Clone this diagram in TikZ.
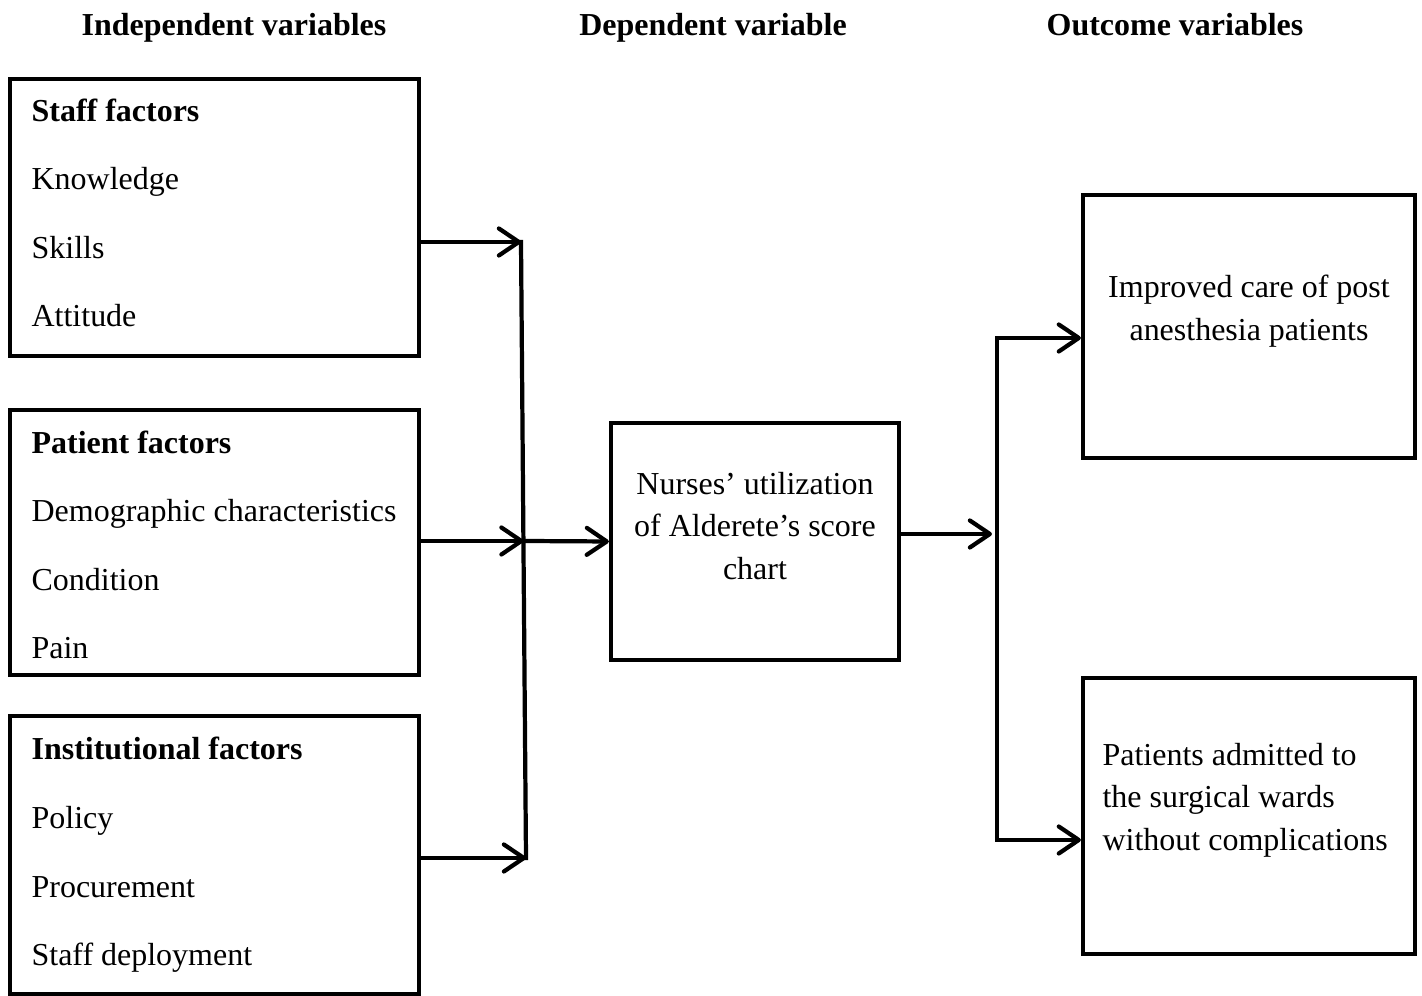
\documentclass[tikz,border=0pt]{standalone}
\usepackage{fontspec}
\setmainfont{Liberation Serif}
\usetikzlibrary{arrows.meta,positioning}

\tikzset{
  caja/.style={draw, line width=1.2pt, inner sep=0pt},
  factores/.style={caja, minimum width=4.09cm},
  lista/.style={inner sep=0pt, anchor=west, xshift=0.23cm, align=left,
    font=\fontsize{9.1}{19.5}\selectfont},
  texto/.style={inner sep=0pt, font=\fontsize{9.1}{12.1}\selectfont},
  linea/.style={line width=1.2pt, line cap=rect},
  flecha/.style={linea, -{Straight Barb[length=2mm,width=2.7mm,line cap=round,line join=round]}},
}

\begin{document}
\begin{tikzpicture} %Marco conceptual
            \useasboundingbox (0,0) rectangle (14.22,9.96);

            \node[font=\fontsize{9.1}{11}\selectfont\bfseries, anchor=base] (indep) at (2.34,9.60) {Independent variables};
            \node[font=\fontsize{9.1}{11}\selectfont\bfseries, anchor=base] (dep) at (7.13,9.60) {Dependent variable};
            \node[font=\fontsize{9.1}{11}\selectfont\bfseries, anchor=base] (outc) at (11.75,9.60) {Outcome variables};

            \node[factores, minimum height=2.77cm] (staff) at (2.145,7.785) {};
            \node[lista, yshift=0.045cm] (stafftext) at (staff.west)
                {\textbf{Staff factors}\\Knowledge\\Skills\\Attitude};
            \node[factores, minimum height=2.65cm] (patient) at (2.145,4.535) {};
            \node[lista, yshift=-0.025cm] (patienttext) at (patient.west)
                {\textbf{Patient factors}\\Demographic characteristics\\Condition\\Pain};
            \node[factores, minimum height=2.78cm] (inst) at (2.145,1.41) {};
            \node[lista, yshift=0cm] (insttext) at (inst.west)
                {\textbf{Institutional factors}\\Policy\\Procurement\\Staff deployment};

            \node[caja, minimum width=2.88cm, minimum height=2.37cm] (dv) at (7.55,4.545) {};
            \node[texto, align=center, yshift=0.155cm] (dvtext) at (dv)
                {Nurses’ utilization\\of Alderete’s score\\chart};

            \node[caja, minimum width=3.32cm, minimum height=2.63cm] (out1) at (12.49,6.695) {};
            \node[texto, align=center, yshift=0.155cm] (out1text) at (out1)
                {Improved care of post\\anesthesia patients};

            \node[caja, minimum width=3.32cm, minimum height=2.76cm] (out2) at (12.49,1.80) {};
            \node[texto, align=left, anchor=west, xshift=0.21cm, yshift=0.16cm] (out2text) at (out2.west)
                {Patients admitted to\\the surgical wards\\without complications};

            \coordinate (j1) at (5.21,7.54);
            \coordinate (j2) at (5.235,4.55);
            \coordinate (j3) at (5.26,1.38);
            \coordinate (k) at (9.92,4.62);
            \coordinate (k1) at (9.97,6.58);
            \coordinate (k2) at (9.97,1.56);

            \draw[linea] (j1) -- (j3);
            \draw[flecha] (staff.east |- j1) -- (j1);
            \draw[flecha] (patient.east |- j2) -- (j2);
            \draw[flecha] (inst.east |- j3) -- (j3);
            \draw[flecha] (j2) -- (dv.west);

            \draw[flecha] (dv.east |- k) -- (k);
            \draw[flecha] (k2) -- (k1) -- (out1.west |- k1);
            \draw[flecha] (k2) -- (out2.west |- k2);
        \end{tikzpicture}
\end{document}
